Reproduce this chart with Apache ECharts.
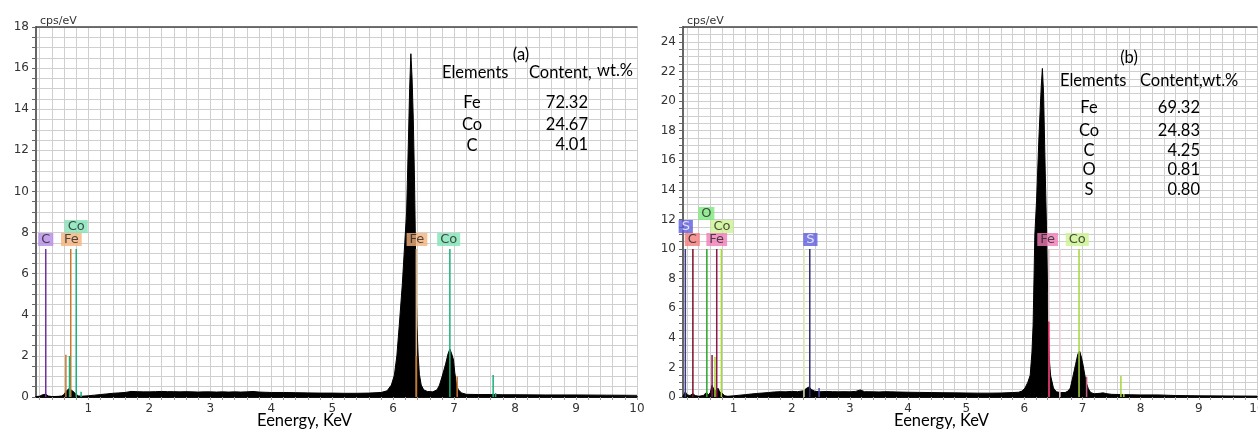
<!DOCTYPE html>
<html><head><meta charset="utf-8">
<script src="https://cdn.jsdelivr.net/npm/echarts@6.0.0/dist/echarts.min.js"></script>
<style>html,body{margin:0;padding:0;background:#fff}#c{width:1258px;height:432px}</style>
</head><body><div id="c"></div>
<script>
// ---------------- DATA ----------------
const xTickLabels = [1, 2, 3, 4, 5, 6, 7, 8, 9, 10];

// Spectrum (a)
const energyA = [0.14,0.20,0.24,0.27,0.30,0.34,0.40,0.50,0.56,0.60,0.64,0.68,0.71,0.74,0.77,0.80,0.84,0.90,1.00,1.10,1.20,1.30,1.40,1.50,1.60,1.70,1.80,1.90,2.00,2.10,2.20,2.30,2.40,2.50,2.60,2.70,2.80,2.90,3.00,3.10,3.20,3.30,3.40,3.50,3.60,3.70,3.80,3.90,4.00,4.20,4.40,4.60,4.80,5.00,5.20,5.40,5.60,5.80,5.90,5.97,6.02,6.06,6.10,6.15,6.19,6.22,6.25,6.27,6.29,6.31,6.33,6.35,6.37,6.39,6.41,6.43,6.46,6.50,6.56,6.65,6.72,6.76,6.81,6.86,6.90,6.93,6.96,6.99,7.01,7.04,7.07,7.12,7.20,7.40,7.60,7.80,8.00,8.50,9.00,9.50,10.00];
const countsA = [0.02,0.04,0.10,0.16,0.14,0.05,0.02,0.03,0.05,0.12,0.30,0.40,0.48,0.30,0.22,0.12,0.05,0.04,0.06,0.09,0.12,0.15,0.18,0.20,0.22,0.27,0.26,0.25,0.25,0.26,0.27,0.26,0.26,0.25,0.26,0.25,0.24,0.25,0.25,0.24,0.25,0.24,0.25,0.24,0.25,0.27,0.24,0.23,0.22,0.22,0.21,0.20,0.19,0.19,0.18,0.18,0.19,0.22,0.30,0.58,1.07,2.0,3.5,5.5,7.5,9.0,12.5,15.0,16.7,15.5,13.5,10.5,6.5,3.5,2.0,1.1,0.58,0.35,0.27,0.25,0.35,0.58,1.07,1.6,2.1,2.33,2.1,1.8,1.2,0.58,0.35,0.20,0.13,0.12,0.12,0.11,0.11,0.10,0.10,0.09,0.08];

// Element line markers (a)
const markEnergyA  = [0.30, 0.63, 0.71, 0.69, 0.80, 0.88, 6.38, 6.38, 7.05, 6.93, 7.64, 7.68];
const markHeightA  = [7.2,  2.05, 7.2,  2.0,  7.2,  0.25, 7.2,  2.0,  1.0,  7.2,  1.07, 0.2];
const markElementA = ['C','Fe','Fe','Co','Co','Co','Fe','Fe','Fe','Co','Co','Co'];
// Element labels (a)
const labelEnergyA  = [0.30, 0.72, 0.80, 6.39, 6.91];
const labelTopA     = [7.2, 7.2, 7.2, 7.2, 7.2];
const labelElementA = ['C','Fe','Co','Fe','Co'];
// Table (a)
const tableElementsA = ['Fe','Co','C'];
const tableContentA  = ['72.32','24.67','4.01'];

// Spectrum (b)
const energyB = [0.13,0.17,0.20,0.25,0.30,0.34,0.40,0.48,0.53,0.57,0.60,0.63,0.66,0.70,0.73,0.76,0.80,0.85,0.90,1.00,1.10,1.20,1.30,1.40,1.50,1.60,1.70,1.80,1.90,2.00,2.10,2.20,2.26,2.30,2.34,2.40,2.50,2.60,2.70,2.80,2.90,3.00,3.10,3.18,3.25,3.40,3.50,3.60,3.70,3.80,3.90,4.00,4.20,4.40,4.60,4.80,5.00,5.20,5.40,5.60,5.80,5.90,5.96,6.01,6.06,6.10,6.13,6.15,6.18,6.21,6.25,6.29,6.31,6.33,6.36,6.38,6.40,6.41,6.43,6.45,6.50,6.55,6.62,6.70,6.75,6.79,6.84,6.88,6.92,6.95,6.98,7.01,7.04,7.07,7.10,7.14,7.20,7.30,7.35,7.42,7.50,7.70,8.00,8.30,8.60,9.00,9.50,10.00];
const countsB = [0.05,0.35,0.15,0.10,0.22,0.10,0.05,0.10,0.30,0.15,0.30,0.80,0.50,0.40,0.60,0.35,0.25,0.08,0.05,0.08,0.12,0.16,0.20,0.24,0.27,0.30,0.34,0.36,0.35,0.38,0.36,0.42,0.60,0.68,0.50,0.38,0.36,0.37,0.36,0.35,0.36,0.35,0.38,0.48,0.36,0.35,0.34,0.36,0.35,0.34,0.33,0.32,0.31,0.30,0.29,0.28,0.27,0.26,0.26,0.27,0.30,0.32,0.40,0.60,1.0,1.47,3.0,4.86,11.0,13.3,17.5,21.0,22.2,20.5,15.0,11.6,7.0,4.86,2.5,1.47,0.60,0.35,0.30,0.30,0.40,0.60,1.47,2.2,2.9,3.1,2.7,2.15,1.47,0.9,0.55,0.30,0.22,0.25,0.28,0.22,0.18,0.16,0.14,0.14,0.10,0.08,0.07,0.06];

// Element line markers (b)
const markEnergyB  = [0.17, 0.30, 0.54, 0.63, 0.71, 0.68, 0.79, 2.21, 2.31, 2.47, 6.42, 6.42, 6.61, 6.94, 7.07, 7.66, 7.71];
const markHeightB  = [10,   10,   10,   2.83, 10,   2.7,  10,   10,   10,   0.6,  10,   5.1,  10,   10,   1.36, 1.42, 0.2];
const markElementB = ['S','C','O','Fe','Fe','Co','Co','O','S','S','Fe','Fe','Fe','Co','Fe','Co','Co'];
// Element labels (b)
const labelEnergyB  = [0.30, 0.29, 0.53, 0.71, 0.80, 2.32, 6.40, 6.91];
const labelTopB     = [10, 10, 10, 10, 10, 10, 10, 10];
const labelElementB = ['S','C','O','Fe','Co','S','Fe','Co'];
// Table (b)
const tableElementsB = ['Fe','Co','C','O','S'];
const tableContentB  = ['69.32','24.83','4.25','0.81','0.80'];

// ---------------- STYLE / LAYOUT ----------------
const markColorA = ['#7030a0','#c9792e','#c9792e','#19b07a','#19b07a','#19b07a','#e2b37e','#c9792e','#c9792e','#19b07a','#19b07a','#19b07a'];
const boxColorA = {C:'#b48ae6', Fe:'#f5b17c', Co:'#7fe3b6'};
const labelLevelA = [0, 0, 1, 0, 0];
const markColorB = ['#3a3a8a','#7a0e2a','#2aa52a','#8b1846','#8b1846','#a8d838','#a8d838','#dcecb8','#2e2e6e','#5050b0','#dcc0cc','#e0205a','#f0d0dc','#a6d63c','#c06080','#a6d63c','#a6d63c'];
const boxColorB = {S:'#5b5bdc', C:'#f47c7c', O:'#7de87d', Fe:'#f07cb8', Co:'#cdf290'};
const boxTextB = {S:'#ffffff'};
const labelLevelB = [1, 0, 2, 0, 1, 0, 0, 0];
const labelAlignB = ['right','center','center','center','center','center','center','center'];

const FONT_AX = 'DejaVu Sans';
const FONT_TXT = 'Lato';
const GRID_COLOR = '#cfcfcf';

const minorX = [];
for (let i = 1; i <= 50; i++) minorX.push(Math.round(i * 2) / 10);

function xAxis(gi, min) {
  return {
    type: 'value', gridIndex: gi, min: min, max: 10,
    axisLine: {show: true, onZero: false, lineStyle: {color: '#111', width: 2}},
    axisTick: {show: true, customValues: minorX, length: 3, lineStyle: {color: '#999'}},
    axisLabel: {customValues: xTickLabels, color: '#333', fontFamily: FONT_AX, fontSize: 12, margin: 6},
    splitLine: {show: true, lineStyle: {color: GRID_COLOR, width: 1}}
  };
}
function xTop(gi, min) {
  return {
    type: 'value', gridIndex: gi, min: min, max: 10, position: 'top',
    axisLine: {show: true, onZero: false, lineStyle: {color: '#444', width: 1.5}},
    axisTick: {show: false}, axisLabel: {show: false}, splitLine: {show: false}
  };
}
function yAxis(gi, max) {
  return {
    type: 'value', gridIndex: gi, min: 0, max: max, interval: 0.5,
    axisLine: {show: true, lineStyle: {color: '#666', width: 2}},
    axisTick: {show: true, length: 4, lineStyle: {color: '#666'}},
    axisLabel: {formatter: v => (Math.abs(v % 2) < 1e-9 ? String(v) : ''), color: '#333', fontFamily: FONT_AX, fontSize: 12, margin: 7},
    splitLine: {show: true, lineStyle: {color: GRID_COLOR, width: 1}},
    name: 'cps/eV', nameLocation: 'end', nameGap: 0,
    nameTextStyle: {align: 'left', verticalAlign: 'bottom', fontFamily: FONT_AX, fontSize: 11, color: '#333', padding: [0, 0, 0, 4]}
  };
}

function spectrum(gi, en, ct) {
  return {
    type: 'line', xAxisIndex: gi, yAxisIndex: gi, data: en.map((e, i) => [e, ct[i]]),
    symbol: 'none', lineStyle: {color: '#000', width: 1}, areaStyle: {color: '#000', opacity: 1},
    z: 2, silent: true, animation: false
  };
}
function markers(gi, en, h, colors) {
  return en.map((e, i) => ({
    type: 'line', xAxisIndex: gi, yAxisIndex: gi, data: [[e, 0], [e, h[i]]],
    symbol: 'none', lineStyle: {color: colors[i], width: 1.5}, z: 5, silent: true, animation: false
  }));
}
function labels(gi, en, top, el, levels, boxColors, textColors, aligns) {
  return en.map((e, i) => ({
    type: 'scatter', xAxisIndex: gi, yAxisIndex: gi, data: [[e, top[i]]],
    symbolSize: 0, z: 6, silent: true, animation: false,
    label: {
      show: true, position: 'top', distance: 3 + levels[i] * 13, formatter: el[i],
      align: aligns ? aligns[i] : 'center',
      backgroundColor: boxColors[el[i]], color: (textColors && textColors[el[i]]) || '#222',
      fontFamily: FONT_AX, fontSize: 13, lineHeight: 13, padding: [0, 3]
    }
  }));
}

function txt(x, y, s, align, size) {
  return {type: 'text', x: Math.round(x), y: Math.round(y), z: 100,
    style: {text: s, fill: '#000', stroke: 'none', lineWidth: 0, fontFamily: FONT_TXT, fontSize: size || 16.5, fontWeight: 'normal',
      textAlign: align || 'left', textVerticalAlign: 'middle'}};
}

const graphics = [];
// table (a)
graphics.push(txt(521, 55, '(a)', 'center'));
graphics.push(txt(442, 73, 'Elements'));
graphics.push(txt(529, 73, 'Content,'));
graphics.push(txt(597, 71, 'wt.%'));
const rowYA = [103, 125, 146];
tableElementsA.forEach((s, i) => {
  graphics.push(txt(472, rowYA[i], s, 'center'));
  graphics.push(txt(588, rowYA[i] - (i === 2 ? 1 : 0), tableContentA[i], 'right'));
});
// table (b)
graphics.push(txt(1129, 58, '(b)', 'center'));
graphics.push(txt(1060, 81, 'Elements'));
graphics.push(txt(1140, 81, 'Content,wt.%'));
const rowYB = [108, 131, 151, 170, 190];
tableElementsB.forEach((s, i) => {
  graphics.push(txt(1089, rowYB[i], s, 'center'));
  graphics.push(txt(1200, rowYB[i], tableContentB[i], 'right'));
});
// axis titles
graphics.push(txt(257, 421, 'Eenergy, KeV', 'left', 16.5));
graphics.push(txt(894, 421, 'Eenergy, KeV', 'left', 16.5));

const option = {
  animation: false,
  backgroundColor: '#fff',
  grid: [
    {left: 36, top: 27, width: 601, height: 370, outerBoundsMode: 'none', containLabel: false},
    {left: 683, top: 27, width: 574, height: 370, outerBoundsMode: 'none', containLabel: false}
  ],
  xAxis: [xAxis(0, 0.14), xAxis(1, 0.13), xTop(0, 0.14), xTop(1, 0.13)],
  yAxis: [yAxis(0, 18), yAxis(1, 25)],
  series: [
    spectrum(0, energyA, countsA),
    spectrum(1, energyB, countsB),
    ...markers(0, markEnergyA, markHeightA, markColorA),
    ...markers(1, markEnergyB, markHeightB, markColorB),
    ...labels(0, labelEnergyA, labelTopA, labelElementA, labelLevelA, boxColorA, null, null),
    ...labels(1, labelEnergyB, labelTopB, labelElementB, labelLevelB, boxColorB, boxTextB, labelAlignB)
  ],
  graphic: graphics
};
const chart = echarts.init(document.getElementById('c'), null, {renderer: 'canvas'});
chart.setOption(option);
</script></body></html>
